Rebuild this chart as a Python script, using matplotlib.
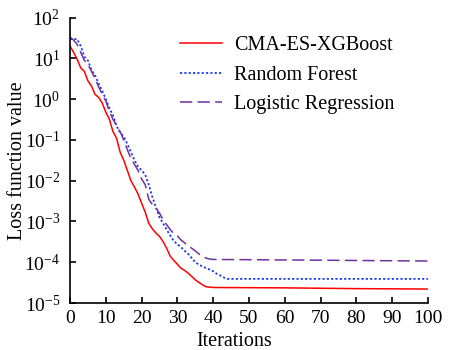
import matplotlib
matplotlib.use('Agg')
import matplotlib.pyplot as plt

plt.rcParams['font.family'] = ['Liberation Serif', 'DejaVu Serif']
plt.rcParams['mathtext.fontset'] = 'custom'
plt.rcParams['mathtext.rm'] = 'Liberation Serif'
plt.rcParams['mathtext.it'] = 'Liberation Serif:italic'
plt.rcParams['mathtext.bf'] = 'Liberation Serif:bold'

# Loss values
iter_xgb = list(range(0, 41)) + [60, 80, 100]
loss_xgb = [20, 14, 9.5, 5.8, 4.8, 2.8, 2.1, 1.3, 1.1, 0.8,
            0.48, 0.32, 0.16, 0.11, 0.05, 0.032, 0.018, 0.01, 0.007, 0.0047,
            0.0028, 0.0017, 9e-4, 6.6e-4, 5.2e-4, 4.3e-4, 3.2e-4, 2.2e-4, 1.4e-4, 1.1e-4,
            8.9e-5, 7.1e-5, 6.3e-5, 5.4e-5, 4.5e-5, 3.7e-5, 3.2e-5, 2.8e-5, 2.5e-5, 2.45e-5,
            2.4e-5, 2.35e-5, 2.25e-5, 2.2e-5]

iter_rf = list(range(0, 45)) + [100]
loss_rf = [29.5, 29.5, 29.5, 20, 11, 8.9, 5.2, 3.8, 2.4, 1.6,
           1.0, 0.6, 0.4, 0.22, 0.15, 0.12, 0.08, 0.05, 0.032, 0.022,
           0.018, 0.014, 0.008, 0.004, 0.0022, 0.00126, 9e-4, 6.3e-4, 4.5e-4, 3.3e-4,
           2.75e-4, 2.35e-4, 1.9e-4, 1.6e-4, 1.26e-4, 1.0e-4, 8.7e-5, 7.9e-5, 7.2e-5, 6.6e-5,
           6.0e-5, 5.2e-5, 4.7e-5, 4.2e-5, 3.9e-5,
           3.9e-5]

iter_lr = list(range(0, 41)) + [70, 100]
loss_lr = [33, 28, 22, 14, 8.9, 7.1, 4.8, 3.2, 2.0, 1.3,
           0.9, 0.5, 0.32, 0.22, 0.16, 0.1, 0.058, 0.035, 0.025, 0.018,
           0.011, 0.008, 0.0035, 0.0026, 0.0021, 0.0016, 0.0011, 8.3e-4, 6.3e-4, 5.0e-4,
           4.4e-4, 3.5e-4, 3.0e-4, 2.5e-4, 2.2e-4, 1.9e-4, 1.6e-4, 1.4e-4, 1.26e-4, 1.2e-4,
           1.17e-4, 1.12e-4, 1.07e-4]

labels = ['CMA-ES-XGBoost', 'Random Forest', 'Logistic Regression']

fig = plt.figure(figsize=(4.52, 3.5), dpi=100)
ax = fig.add_axes([70 / 452, 1 - 303 / 350, 358 / 452, 285.5 / 350])

ax.plot(iter_xgb, loss_xgb, color='#ff0000', lw=1.1, label=labels[0])
ax.plot(iter_rf, loss_rf, color='#1a3cf0', lw=1.3, linestyle=(0, (1.2, 1.2)), label=labels[1])
ax.plot(iter_lr, loss_lr, color='#7030a0', lw=1.1, linestyle=(0, (8, 3.5)), label=labels[2])

ax.set_yscale('log')
ax.set_ylim(1e-5, 1e2)
ax.set_xlim(0, 100)
ax.set_xticks(range(0, 101, 10))
ax.set_yticks([1e-5, 1e-4, 1e-3, 1e-2, 1e-1, 1e0, 1e1, 1e2])
ax.minorticks_off()

for side in ['top', 'right']:
    ax.spines[side].set_visible(False)
for side in ['left', 'bottom']:
    ax.spines[side].set_linewidth(1.2)

ax.tick_params(direction='in', length=4.5, width=1.2, labelsize=14, pad=5)
ax.tick_params(axis='y', pad=7)

ax.set_xlabel('Iterations', fontsize=14.5)
ax.xaxis.set_label_coords(0.46, -0.1)
ax.set_ylabel('Loss function value', fontsize=14.5)
ax.yaxis.set_label_coords(-0.12, 0.5)

ax.legend(loc='upper left', bbox_to_anchor=(180 / 452, 1 - 36 / 350),
          bbox_transform=fig.transFigure, frameon=False, fontsize=14.5,
          handlelength=2.1, handletextpad=0.6, labelspacing=0.52,
          borderpad=0, borderaxespad=0)

plt.savefig('out.png', dpi=100)
